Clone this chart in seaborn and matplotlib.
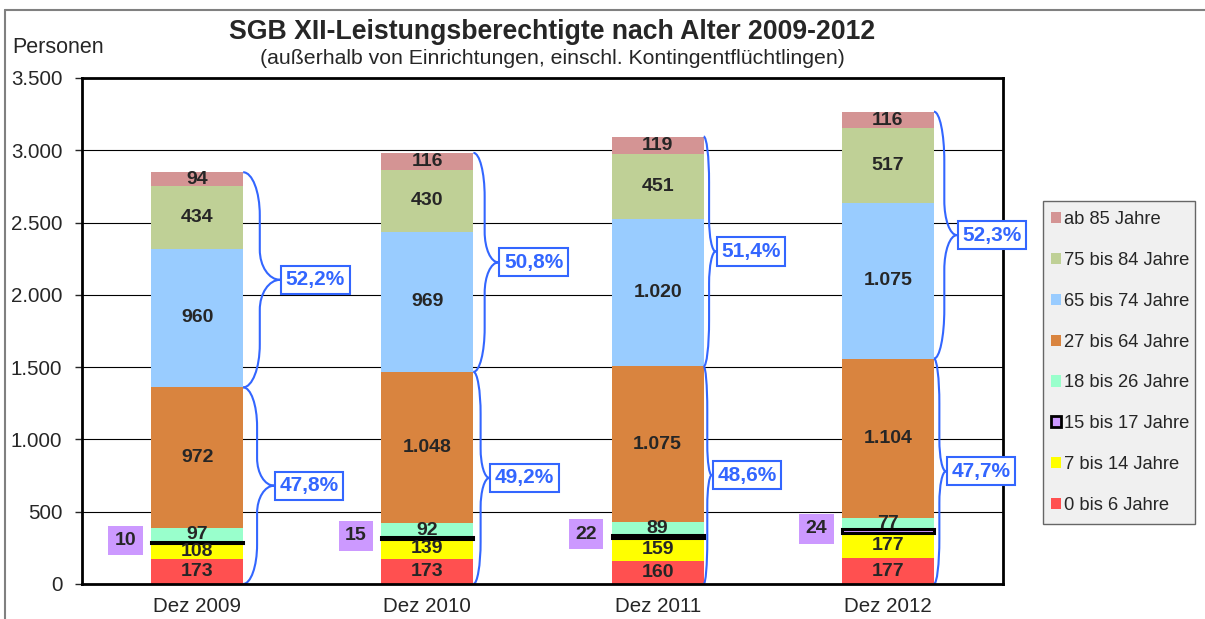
import numpy as np
import pandas as pd
import seaborn as sns
import matplotlib
matplotlib.use('Agg')
import matplotlib.pyplot as plt
from matplotlib.path import Path
from matplotlib.patches import PathPatch, Patch, Rectangle
from matplotlib.ticker import FuncFormatter

sns.set_style('white')
plt.rcParams['font.family'] = ['Liberation Sans', 'DejaVu Sans']

years = ['Dez 2009', 'Dez 2010', 'Dez 2011', 'Dez 2012']
groups = ['0 bis 6 Jahre', '7 bis 14 Jahre', '15 bis 17 Jahre', '18 bis 26 Jahre',
          '27 bis 64 Jahre', '65 bis 74 Jahre', '75 bis 84 Jahre', 'ab 85 Jahre']
age_0_6 = [173, 173, 160, 177]
age_7_14 = [108, 139, 159, 177]
age_15_17 = [10, 15, 22, 24]
age_18_26 = [97, 92, 89, 77]
age_27_64 = [972, 1048, 1075, 1104]
age_65_74 = [960, 969, 1020, 1075]
age_75_84 = [434, 430, 451, 517]
age_85 = [94, 116, 119, 116]

colors = ['#FF5050', '#FFFF00', '#CC99FF', '#99FFCC',
          '#D9843F', '#99CCFF', '#BFD096', '#D49494']
blue = '#3366FF'

# how far each brace reaches right of its bar, in pixels (upper, lower)
brace_reach = [(37, 31), (25, 16), (12, 8), (23, 12)]

vals = np.array([age_0_6, age_7_14, age_15_17, age_18_26,
                 age_27_64, age_65_74, age_75_84, age_85], dtype=float)
cum = vals.cumsum(axis=0)
bottoms = cum - vals

fig = plt.figure(figsize=(12.05, 6.19), dpi=100)
ax = fig.add_axes([0.068, 0.0566, 0.7644, 0.8174])
px = 4.0 / (0.7644 * 1205)  # data units per pixel on x

# gridlines behind bars
for g in range(500, 3500, 500):
    ax.axhline(g, color='black', lw=0.8, zorder=0)

# stacked bars: draw cumulative totals from top layer down
W = 0.4
for k in range(len(groups) - 1, -1, -1):
    df = pd.DataFrame({'Jahr': years, 'Wert': cum[k]})
    n_before = len(ax.patches)
    sns.barplot(data=df, x='Jahr', y='Wert', color=colors[k], saturation=1,
                width=W, ax=ax, zorder=2, edgecolor='none', linewidth=0)
    if k == 2:
        seg_1517 = ax.patches[n_before:]

# the thin 15-17 segment gets a black outline on top of its neighbours
for i, p in enumerate(seg_1517):
    p.set_y(bottoms[2, i])
    p.set_height(vals[2, i])
    p.set_edgecolor('black')
    p.set_linewidth(2.2)
    p.set_zorder(3)

# segment labels
for k in range(len(groups)):
    for i in range(len(years)):
        v = vals[k, i]
        if k == 2:
            ax.text(i - W / 2 - 0.11, bottoms[k, i] + v / 2 + 15, f'{int(v)}',
                    ha='center', va='center', fontsize=14, fontweight='bold',
                    zorder=5,
                    bbox=dict(boxstyle='square,pad=0.33', fc='#CC99FF', ec='none'))
            continue
        ax.text(i, bottoms[k, i] + v / 2, f'{int(v):,}'.replace(',', '.'),
                ha='center', va='center', fontsize=14, fontweight='bold',
                zorder=5)


def brace(ax, x0, top, bot, reach):
    xt = x0 + reach * px
    xv = x0 + 0.45 * reach * px
    mid = (top + bot) / 2
    r = 0.2 * (top - bot)
    r2 = 0.14 * (top - bot)
    c = 0.552
    verts = [(x0, top), (x0 + c * (xv - x0), top), (xv, top - (1 - c) * r), (xv, top - r),
             (xv, mid + r2),
             (xv, mid + (1 - c) * r2), (xt - c * (xt - xv), mid), (xt, mid),
             (xt - c * (xt - xv), mid), (xv, mid - (1 - c) * r2), (xv, mid - r2),
             (xv, bot + r),
             (xv, bot + (1 - c) * r), (x0 + c * (xv - x0), bot), (x0, bot)]
    codes = [Path.MOVETO, Path.CURVE4, Path.CURVE4, Path.CURVE4,
             Path.LINETO,
             Path.CURVE4, Path.CURVE4, Path.CURVE4,
             Path.CURVE4, Path.CURVE4, Path.CURVE4,
             Path.LINETO,
             Path.CURVE4, Path.CURVE4, Path.CURVE4]
    ax.add_patch(PathPatch(Path(verts, codes), fc='none', ec=blue, lw=1.5,
                           zorder=4, clip_on=False))
    return xt, mid


totals = cum[-1]
lower = cum[4]
for i in range(len(years)):
    x0 = i + W / 2
    parts = [(totals[i], lower[i], 1 - lower[i] / totals[i], brace_reach[i][0]),
             (lower[i], 0, lower[i] / totals[i], brace_reach[i][1])]
    for top, bot, share, reach in parts:
        xt, mid = brace(ax, x0, top, bot, reach)
        label = f'{share * 100:.1f}%'.replace('.', ',')
        ax.annotate(label, xy=(xt, mid), xytext=(4, 0),
                    textcoords='offset points', ha='left', va='center',
                    fontsize=15, fontweight='bold', color=blue, zorder=8,
                    bbox=dict(boxstyle='square,pad=0.22', fc='white', ec=blue, lw=1.5))

ax.set_xlim(-0.5, 3.5)
ax.set_ylim(0, 3500)
ax.set_yticks(range(0, 3501, 500))
ax.yaxis.set_major_formatter(FuncFormatter(lambda v, p: f'{int(v):,}'.replace(',', '.')))
ax.set_xlabel('')
ax.set_ylabel('')
ax.tick_params(axis='y', left=True, length=5, width=1, labelsize=14.8, pad=9)
ax.tick_params(axis='x', bottom=False, labelsize=14.8, pad=6)
for side in ['left', 'top', 'right', 'bottom']:
    ax.spines[side].set_visible(True)
    ax.spines[side].set_color('black')
    ax.spines[side].set_linewidth(2)
    ax.spines[side].set_zorder(7)

fig.text(0.458, 0.948, 'SGB XII-Leistungsberechtigte nach Alter 2009-2012',
         ha='center', va='center', fontsize=19.2, fontweight='bold')
fig.text(0.4585, 0.905, '(außerhalb von Einrichtungen, einschl. Kontingentflüchtlingen)',
         ha='center', va='center', fontsize=15.3)
fig.text(0.0105, 0.924, 'Personen', ha='left', va='center', fontsize=15.5)

# legend: grey box drawn separately, entries placed inside it
fig.add_artist(Rectangle((0.8656, 0.1535), 0.126, 0.5215, transform=fig.transFigure,
                         fc='#F0F0F0', ec='#666666', lw=1))
handles = []
for k in range(len(groups) - 1, -1, -1):
    if k == 2:
        handles.append(Patch(fc=colors[k], ec='black', lw=2, label=groups[k]))
    else:
        handles.append(Patch(fc=colors[k], ec='none', label=groups[k]))
leg = fig.legend(handles=handles, loc='center left',
                 bbox_to_anchor=(0.872, 0.1535, 0.12, 0.5215),
                 fontsize=13.2, frameon=False,
                 handlelength=0.55, handleheight=0.55, handletextpad=0.18,
                 labelspacing=1.3, borderpad=0, borderaxespad=0)

# outer chart frame (top and left edges visible)
fig.add_artist(plt.Line2D([0.0045, 1.0], [0.984, 0.984], color='#808080', lw=1.5))
fig.add_artist(plt.Line2D([0.0045, 0.0045], [0.0, 0.984], color='#808080', lw=1.5))

plt.savefig('out.png', dpi=100)
plt.close()
